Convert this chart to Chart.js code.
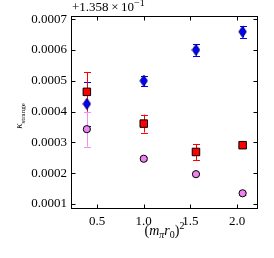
<!DOCTYPE html>
<html lang="en">
<head>
  <meta charset="UTF-8" />
  <title>kappa strange</title>
  <script src="https://cdn.jsdelivr.net/npm/chart.js"></script>
  <style>
    body { margin: 0; padding: 0; background: #fff; }
    canvas { display: block; }
  </style>
</head>
<body>
  <canvas id="chart" width="274" height="258"></canvas>
  <script>
    // (m_pi r0)^2 positions
    const xs = [0.39, 1.0, 1.56, 2.06];
    // values are offsets from 1.358e-1
    const blueVals = [0.000425, 0.000500, 0.000600, 0.000659];
    const blueErrs = [0.000072, 0.000017, 0.000019, 0.000019];
    const redVals = [0.000464, 0.000361, 0.000269, 0.000291];
    const redErrs = [0.000064, 0.000029, 0.000026, 0.000008];
    const violetVals = [0.000343, 0.000247, 0.000197, 0.000135];
    const violetErrs = [0.000057, 0.000005, 0.000004, 0.000004];

    const xTicks = [0.5, 1.0, 1.5, 2.0];
    const yTicks = [0.0001, 0.0002, 0.0003, 0.0004, 0.0005, 0.0006, 0.0007];

    const SERIF = '"Liberation Serif", "DejaVu Serif", serif';

    function pts(vals) {
      return vals.map((v, i) => ({ x: xs[i], y: v }));
    }

    // thin diamond marker
    const diamond = document.createElement('canvas');
    diamond.width = 9; diamond.height = 12;
    (function () {
      const c = diamond.getContext('2d');
      c.beginPath();
      c.moveTo(4.5, 0.5); c.lineTo(8.2, 6); c.lineTo(4.5, 11.5); c.lineTo(0.8, 6); c.closePath();
      c.fillStyle = '#0000ff'; c.fill();
      c.strokeStyle = '#000060'; c.lineWidth = 1; c.stroke();
    })();

    const errorBars = {
      id: 'errorBars',
      beforeDatasetsDraw(chart) {
        const ctx = chart.ctx;
        const y = chart.scales.y, x = chart.scales.x;
        chart.data.datasets.forEach(ds => {
          ctx.save();
          ctx.strokeStyle = ds.errColor;
          ctx.lineWidth = 1;
          ds.data.forEach((p, i) => {
            const px = Math.round(x.getPixelForValue(p.x)) + 0.5;
            const top = y.getPixelForValue(p.y + ds.errs[i]);
            const bot = y.getPixelForValue(p.y - ds.errs[i]);
            ctx.beginPath();
            ctx.moveTo(px, top); ctx.lineTo(px, bot);
            ctx.moveTo(px - 3.5, Math.round(top) + 0.5); ctx.lineTo(px + 3.5, Math.round(top) + 0.5);
            ctx.moveTo(px - 3.5, Math.round(bot) + 0.5); ctx.lineTo(px + 3.5, Math.round(bot) + 0.5);
            ctx.stroke();
          });
          ctx.restore();
        });
      }
    };

    function richText(ctx, parts, x, y, align) {
      ctx.textAlign = 'left';
      let w = 0;
      parts.forEach(p => { ctx.font = p.font; w += ctx.measureText(p.t).width; });
      let cx = align === 'center' ? x - w / 2 : x;
      parts.forEach(p => {
        ctx.font = p.font;
        ctx.fillText(p.t, cx, y + (p.dy || 0));
        cx += ctx.measureText(p.t).width;
      });
    }

    const frame = {
      id: 'frame',
      afterDraw(chart) {
        const ctx = chart.ctx;
        const a = chart.chartArea;
        const x = chart.scales.x, y = chart.scales.y;
        ctx.save();
        ctx.strokeStyle = '#000';
        ctx.lineWidth = 1;
        const L = Math.round(a.left) + 0.5, R = Math.round(a.right) - 0.5;
        const T = Math.round(a.top) + 0.5, B = Math.round(a.bottom) - 0.5;
        ctx.strokeRect(L, T, R - L, B - T);
        ctx.beginPath();
        xTicks.forEach(v => {
          const px = Math.round(x.getPixelForValue(v)) + 0.5;
          ctx.moveTo(px, B); ctx.lineTo(px, B - 4);
          ctx.moveTo(px, T); ctx.lineTo(px, T + 4);
        });
        yTicks.forEach(v => {
          const py = Math.round(y.getPixelForValue(v)) + 0.5;
          ctx.moveTo(L, py); ctx.lineTo(L + 4, py);
          ctx.moveTo(R, py); ctx.lineTo(R - 4, py);
        });
        ctx.stroke();

        ctx.fillStyle = '#000';
        ctx.textBaseline = 'alphabetic';
        const rm = '14px ' + SERIF, it = 'italic 14px ' + SERIF;
        const sm = '10px ' + SERIF, smIt = 'italic 10px ' + SERIF;
        // offset text
        richText(ctx, [
          { t: '+1.358\u2009\u00d7\u200910', font: '13px ' + SERIF },
          { t: '\u22121', font: sm, dy: -5 }
        ], a.left + 1, 11, 'left');
        // x label
        richText(ctx, [
          { t: '(', font: rm },
          { t: 'm', font: it },
          { t: '\u03c0', font: smIt, dy: 3 },
          { t: 'r', font: it },
          { t: '0', font: sm, dy: 3 },
          { t: ')', font: rm },
          { t: '2', font: sm, dy: -6 }
        ], (a.left + a.right) / 2, 235, 'center');
        // y label
        ctx.save();
        ctx.translate(22, 116);
        ctx.rotate(-Math.PI / 2);
        richText(ctx, [
          { t: '\u03ba', font: 'italic 11px ' + SERIF },
          { t: 'strange', font: '7px ' + SERIF, dy: 2.5 }
        ], 0, 0, 'center');
        ctx.restore();
        ctx.restore();
      }
    };

    new Chart(document.getElementById('chart'), {
      type: 'scatter',
      data: {
        datasets: [
          {
            label: 'blue', data: pts(blueVals), errs: blueErrs, errColor: '#0000ff',
            pointStyle: diamond, pointRadius: 5
          },
          {
            label: 'red', data: pts(redVals), errs: redErrs, errColor: '#ff0000',
            pointStyle: 'rect', pointRadius: 5.3,
            backgroundColor: '#ff0000', borderColor: '#000', borderWidth: 1
          },
          {
            label: 'violet', data: pts(violetVals), errs: violetErrs, errColor: '#f090f0',
            pointStyle: 'circle', pointRadius: 3.6,
            backgroundColor: '#ee82ee', borderColor: '#000', borderWidth: 1
          }
        ]
      },
      options: {
        responsive: false,
        animation: false,
        devicePixelRatio: 1,
        layout: { padding: { left: 0, top: 16, right: 16, bottom: 0 } },
        plugins: { legend: { display: false }, tooltip: { enabled: false } },
        scales: {
          x: {
            type: 'linear', min: 0.22, max: 2.225,
            afterBuildTicks: s => { s.ticks = xTicks.map(v => ({ value: v })); },
            afterFit: s => { s.height = 49; },
            grid: { display: false, drawTicks: false, tickLength: 0 }, border: { display: false },
            ticks: { color: '#000', padding: 5, font: { family: SERIF, size: 13 },
              callback: v => v.toFixed(1) }
          },
          y: {
            type: 'linear', min: 0.000084, max: 0.00071,
            afterBuildTicks: s => { s.ticks = yTicks.map(v => ({ value: v })); },
            afterFit: s => { s.width = 71; },
            grid: { display: false, drawTicks: false, tickLength: 0 }, border: { display: false },
            ticks: { color: '#000', padding: 4, font: { family: SERIF, size: 13 },
              callback: v => v.toFixed(4) }
          }
        }
      },
      plugins: [errorBars, frame]
    });
  </script>
</body>
</html>
